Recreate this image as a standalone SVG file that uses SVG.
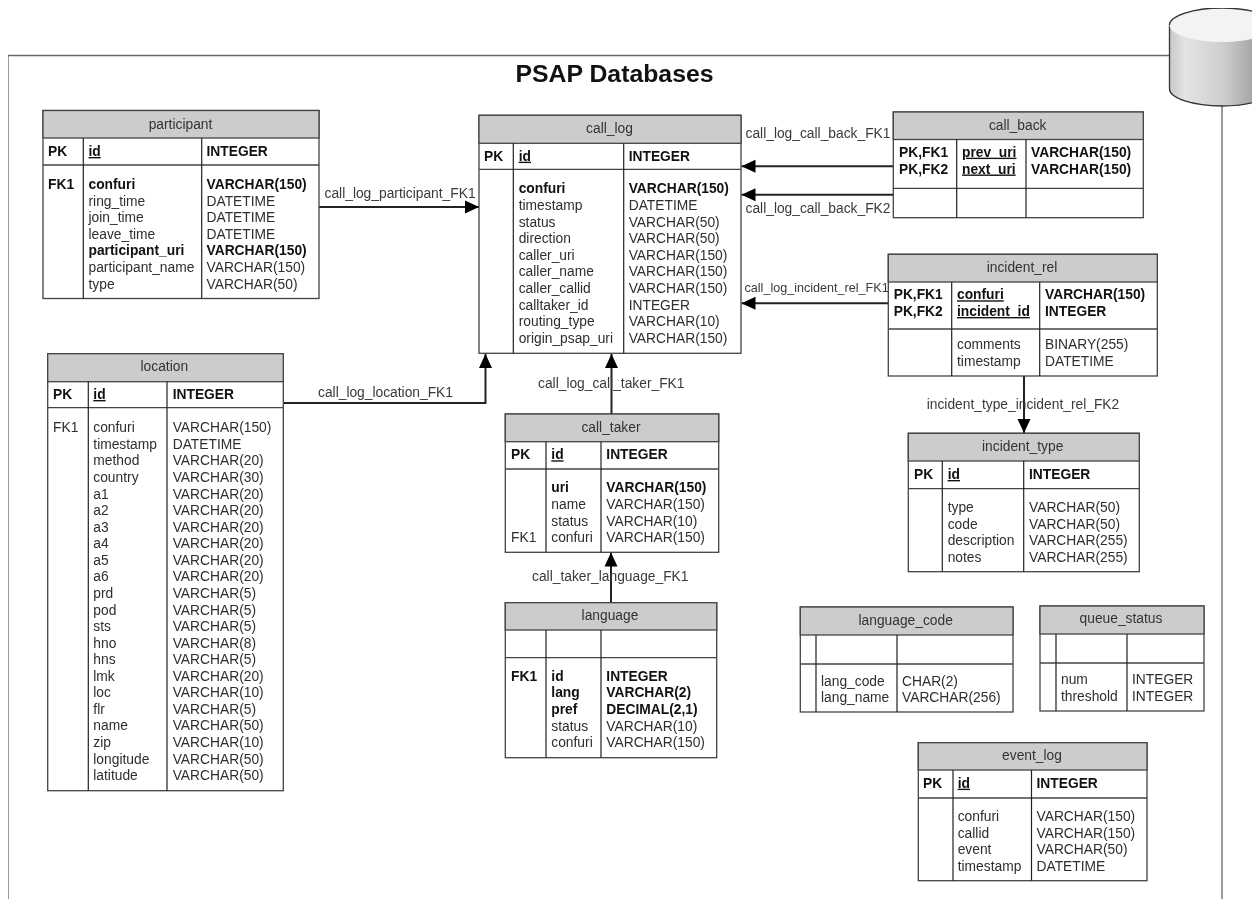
<svg xmlns="http://www.w3.org/2000/svg" width="1252" height="899" viewBox="0 0 1252 899">
<style>
text{font-family:"Liberation Sans",Arial,sans-serif;font-size:13.8px;fill:#2e2e2e}
.b{font-weight:bold;fill:#111}
.u{font-weight:bold;fill:#111;text-decoration:underline}
.h{text-anchor:middle;fill:#333}
.l{fill:#3a3a3a}
.title{font-size:24.8px;font-weight:bold;fill:#111}
.box{fill:#fff;stroke:#444;stroke-width:1.3}
.head{fill:#ccc;stroke:#444;stroke-width:1.3}
.sep{stroke:#444;stroke-width:1.3;fill:none}
.col{stroke:#222;stroke-width:1.2;fill:none}
.frame{stroke:#666;stroke-width:1.3;fill:none}
.conn{stroke:#222;stroke-width:2;fill:none;marker-end:url(#arrow)}
</style>
<defs>
<marker id="arrow" markerUnits="userSpaceOnUse" markerWidth="14" markerHeight="14" refX="14" refY="7" orient="auto"><path d="M0 0.5L14 7L0 13.5Z" fill="#000"/></marker>
<linearGradient id="cyl" x1="0" x2="1" y1="0" y2="0"><stop offset="0" stop-color="#c8c8c8"/><stop offset="0.15" stop-color="#e4e4e4"/><stop offset="0.5" stop-color="#cfcfcf"/><stop offset="0.78" stop-color="#a8a8a8"/><stop offset="1" stop-color="#999"/></linearGradient>
<filter id="soft" x="0" y="0" width="100%" height="100%" color-interpolation-filters="sRGB"><feGaussianBlur stdDeviation="0.4"/></filter>
</defs>
<rect width="1252" height="899" fill="#fff"/>
<g filter="url(#soft)">
<g id="frame">
<path class="frame" d="M8 899V55.5H1169M1222 106V899"/>
<path d="M1169.5 25V89C1169.5 98 1193 106 1222 106S1274.5 98 1274.5 89V25Z" fill="url(#cyl)" stroke="#333" stroke-width="1.3"/>
<ellipse cx="1222" cy="25" rx="52.5" ry="17" fill="#f3f3f3"/>
<path d="M1169.5 25C1169.5 16 1193 8 1222 8S1274.5 16 1274.5 25" fill="none" stroke="#333" stroke-width="1.3"/>
<text class="title" x="515.5" y="82">PSAP Databases</text>
</g>
<g id="connectors">
<path class="conn" d="M319 207H479"/>
<path class="conn" d="M283.5 403H485.5V354"/>
<path class="conn" d="M611.5 414V354"/>
<path class="conn" d="M611 602.7V552.5"/>
<path class="conn" d="M893 166.3H741.5"/>
<path class="conn" d="M893 194.7H741.5"/>
<path class="conn" d="M888 303.3H741.5"/>
<path class="conn" d="M1024 376V433"/>
<text class="l" x="324.5" y="197.5">call_log_participant_FK1</text>
<text class="l" x="318" y="397">call_log_location_FK1</text>
<text class="l" x="538" y="387.7">call_log_call_taker_FK1</text>
<text class="l" x="532" y="581.3">call_taker_language_FK1</text>
<text class="l" x="745.5" y="138.3">call_log_call_back_FK1</text>
<text class="l" x="745.5" y="212.7">call_log_call_back_FK2</text>
<text class="l" x="744.5" y="292" style="font-size:12.6px">call_log_incident_rel_FK1</text>
<text class="l" x="926.7" y="408.7">incident_type_incident_rel_FK2</text>
</g>
<g id="participant">
<rect class="box" x="43" y="110.5" width="276" height="188"/><rect class="head" x="43" y="110.5" width="276" height="27.5"/>
<path class="sep" d="M43 165H319"/><path class="col" d="M83.3 138V298.5M201.7 138V298.5"/>
<text class="h" x="180.5" y="128.5">participant</text>
<text class="b" x="48" y="156">PK</text><text class="u" x="88.5" y="156">id</text><text class="b" x="206.5" y="156">INTEGER</text>
<text class="b" x="48" y="189">FK1</text>
<text class="b" x="88.5" y="189">confuri</text><text class="b" x="206.5" y="189">VARCHAR(150)</text>
<text x="88.5" y="205.6">ring_time</text><text x="206.5" y="205.6">DATETIME</text>
<text x="88.5" y="222.2">join_time</text><text x="206.5" y="222.2">DATETIME</text>
<text x="88.5" y="238.8">leave_time</text><text x="206.5" y="238.8">DATETIME</text>
<text class="b" x="88.5" y="255.4">participant_uri</text><text class="b" x="206.5" y="255.4">VARCHAR(150)</text>
<text x="88.5" y="272">participant_name</text><text x="206.5" y="272">VARCHAR(150)</text>
<text x="88.5" y="288.6">type</text><text x="206.5" y="288.6">VARCHAR(50)</text>
</g>
<g id="call_log">
<rect class="box" x="479" y="115.3" width="262" height="238"/><rect class="head" x="479" y="115.3" width="262" height="28"/>
<path class="sep" d="M479 169.3H741"/><path class="col" d="M513.3 143.3V353.3M623.7 143.3V353.3"/>
<text class="h" x="609.5" y="133">call_log</text>
<text class="b" x="484" y="160.7">PK</text><text class="u" x="518.7" y="160.7">id</text><text class="b" x="628.7" y="160.7">INTEGER</text>
<text class="b" x="518.7" y="193.3">confuri</text><text class="b" x="628.7" y="193.3">VARCHAR(150)</text>
<text x="518.7" y="209.9">timestamp</text><text x="628.7" y="209.9">DATETIME</text>
<text x="518.7" y="226.5">status</text><text x="628.7" y="226.5">VARCHAR(50)</text>
<text x="518.7" y="243.1">direction</text><text x="628.7" y="243.1">VARCHAR(50)</text>
<text x="518.7" y="259.7">caller_uri</text><text x="628.7" y="259.7">VARCHAR(150)</text>
<text x="518.7" y="276.3">caller_name</text><text x="628.7" y="276.3">VARCHAR(150)</text>
<text x="518.7" y="292.9">caller_callid</text><text x="628.7" y="292.9">VARCHAR(150)</text>
<text x="518.7" y="309.5">calltaker_id</text><text x="628.7" y="309.5">INTEGER</text>
<text x="518.7" y="326.1">routing_type</text><text x="628.7" y="326.1">VARCHAR(10)</text>
<text x="518.7" y="342.7">origin_psap_uri</text><text x="628.7" y="342.7">VARCHAR(150)</text>
</g>
<g id="call_back">
<rect class="box" x="893.3" y="112" width="250" height="105.7"/><rect class="head" x="893.3" y="112" width="250" height="27.5"/>
<path class="sep" d="M893.3 188.3H1143.3"/><path class="col" d="M956.7 139.5V217.7M1026 139.5V217.7"/>
<text class="h" x="1017.7" y="129.7">call_back</text>
<text class="b" x="899" y="156.7">PK,FK1</text><text class="u" x="962" y="156.7">prev_uri</text><text class="b" x="1031" y="156.7">VARCHAR(150)</text>
<text class="b" x="899" y="173.5">PK,FK2</text><text class="u" x="962" y="173.5">next_uri</text><text class="b" x="1031" y="173.5">VARCHAR(150)</text>
</g>
<g id="incident_rel">
<rect class="box" x="888.3" y="254.3" width="269" height="121.7"/><rect class="head" x="888.3" y="254.3" width="269" height="27.7"/>
<path class="sep" d="M888.3 329H1157.3"/><path class="col" d="M951.7 282V376M1039.7 282V376"/>
<text class="h" x="1022" y="271.7">incident_rel</text>
<text class="b" x="893.7" y="299.3">PK,FK1</text><text class="u" x="957" y="299.3">confuri</text><text class="b" x="1045" y="299.3">VARCHAR(150)</text>
<text class="b" x="893.7" y="316">PK,FK2</text><text class="u" x="957" y="316">incident_id</text><text class="b" x="1045" y="316">INTEGER</text>
<text x="957" y="349.3">comments</text><text x="1045" y="349.3">BINARY(255)</text>
<text x="957" y="366">timestamp</text><text x="1045" y="366">DATETIME</text>
</g>
<g id="incident_type">
<rect class="box" x="908.3" y="433.3" width="231" height="138.4"/><rect class="head" x="908.3" y="433.3" width="231" height="27.7"/>
<path class="sep" d="M908.3 488.7H1139.3"/><path class="col" d="M942.3 461V571.7M1023.7 461V571.7"/>
<text class="h" x="1022.7" y="450.7">incident_type</text>
<text class="b" x="914" y="479">PK</text><text class="u" x="947.7" y="479">id</text><text class="b" x="1029" y="479">INTEGER</text>
<text x="947.7" y="512">type</text><text x="1029" y="512">VARCHAR(50)</text>
<text x="947.7" y="528.6">code</text><text x="1029" y="528.6">VARCHAR(50)</text>
<text x="947.7" y="545.2">description</text><text x="1029" y="545.2">VARCHAR(255)</text>
<text x="947.7" y="561.8">notes</text><text x="1029" y="561.8">VARCHAR(255)</text>
</g>
<g id="location">
<rect class="box" x="47.7" y="353.7" width="235.6" height="437"/><rect class="head" x="47.7" y="353.7" width="235.6" height="28"/>
<path class="sep" d="M47.7 407.7H283.3"/><path class="col" d="M88.3 381.7V790.7M167 381.7V790.7"/>
<text class="h" x="164.3" y="371.3">location</text>
<text class="b" x="53" y="399">PK</text><text class="u" x="93.3" y="399">id</text><text class="b" x="172.7" y="399">INTEGER</text>
<text x="53" y="432.3">FK1</text>
<text x="93.3" y="432.3">confuri</text><text x="172.7" y="432.3">VARCHAR(150)</text>
<text x="93.3" y="448.9">timestamp</text><text x="172.7" y="448.9">DATETIME</text>
<text x="93.3" y="465.4">method</text><text x="172.7" y="465.4">VARCHAR(20)</text>
<text x="93.3" y="482">country</text><text x="172.7" y="482">VARCHAR(30)</text>
<text x="93.3" y="498.5">a1</text><text x="172.7" y="498.5">VARCHAR(20)</text>
<text x="93.3" y="515.1">a2</text><text x="172.7" y="515.1">VARCHAR(20)</text>
<text x="93.3" y="531.7">a3</text><text x="172.7" y="531.7">VARCHAR(20)</text>
<text x="93.3" y="548.2">a4</text><text x="172.7" y="548.2">VARCHAR(20)</text>
<text x="93.3" y="564.8">a5</text><text x="172.7" y="564.8">VARCHAR(20)</text>
<text x="93.3" y="581.3">a6</text><text x="172.7" y="581.3">VARCHAR(20)</text>
<text x="93.3" y="597.9">prd</text><text x="172.7" y="597.9">VARCHAR(5)</text>
<text x="93.3" y="614.5">pod</text><text x="172.7" y="614.5">VARCHAR(5)</text>
<text x="93.3" y="631">sts</text><text x="172.7" y="631">VARCHAR(5)</text>
<text x="93.3" y="647.6">hno</text><text x="172.7" y="647.6">VARCHAR(8)</text>
<text x="93.3" y="664.1">hns</text><text x="172.7" y="664.1">VARCHAR(5)</text>
<text x="93.3" y="680.7">lmk</text><text x="172.7" y="680.7">VARCHAR(20)</text>
<text x="93.3" y="697.3">loc</text><text x="172.7" y="697.3">VARCHAR(10)</text>
<text x="93.3" y="713.8">flr</text><text x="172.7" y="713.8">VARCHAR(5)</text>
<text x="93.3" y="730.4">name</text><text x="172.7" y="730.4">VARCHAR(50)</text>
<text x="93.3" y="746.9">zip</text><text x="172.7" y="746.9">VARCHAR(10)</text>
<text x="93.3" y="763.5">longitude</text><text x="172.7" y="763.5">VARCHAR(50)</text>
<text x="93.3" y="780">latitude</text><text x="172.7" y="780">VARCHAR(50)</text>
</g>
<g id="call_taker">
<rect class="box" x="505.3" y="414" width="213.4" height="138.3"/><rect class="head" x="505.3" y="414" width="213.4" height="27.7"/>
<path class="sep" d="M505.3 469H718.7"/><path class="col" d="M546 441.7V552.3M601 441.7V552.3"/>
<text class="h" x="611" y="431.7">call_taker</text>
<text class="b" x="511" y="459.3">PK</text><text class="u" x="551.3" y="459.3">id</text><text class="b" x="606.3" y="459.3">INTEGER</text>
<text class="b" x="551.3" y="492.3">uri</text><text class="b" x="606.3" y="492.3">VARCHAR(150)</text>
<text x="551.3" y="509">name</text><text x="606.3" y="509">VARCHAR(150)</text>
<text x="551.3" y="525.5">status</text><text x="606.3" y="525.5">VARCHAR(10)</text>
<text x="511" y="542">FK1</text><text x="551.3" y="542">confuri</text><text x="606.3" y="542">VARCHAR(150)</text>
</g>
<g id="language">
<rect class="box" x="505.3" y="602.7" width="211.4" height="155"/><rect class="head" x="505.3" y="602.7" width="211.4" height="27.3"/>
<path class="sep" d="M505.3 657.7H716.7"/><path class="col" d="M546 630V757.7M601 630V757.7"/>
<text class="h" x="610" y="620">language</text>
<text class="b" x="511" y="680.7">FK1</text><text class="b" x="551.3" y="680.7">id</text><text class="b" x="606.3" y="680.7">INTEGER</text>
<text class="b" x="551.3" y="697.3">lang</text><text class="b" x="606.3" y="697.3">VARCHAR(2)</text>
<text class="b" x="551.3" y="714">pref</text><text class="b" x="606.3" y="714">DECIMAL(2,1)</text>
<text x="551.3" y="730.5">status</text><text x="606.3" y="730.5">VARCHAR(10)</text>
<text x="551.3" y="747">confuri</text><text x="606.3" y="747">VARCHAR(150)</text>
</g>
<g id="language_code">
<rect class="box" x="800.3" y="607" width="212.7" height="105"/><rect class="head" x="800.3" y="607" width="212.7" height="28"/>
<path class="sep" d="M800.3 664H1013"/><path class="col" d="M816 635V712M897 635V712"/>
<text class="h" x="905.7" y="624.7">language_code</text>
<text x="821" y="685.7">lang_code</text><text x="902" y="685.7">CHAR(2)</text>
<text x="821" y="702.3">lang_name</text><text x="902" y="702.3">VARCHAR(256)</text>
</g>
<g id="queue_status">
<rect class="box" x="1040" y="606" width="164" height="105"/><rect class="head" x="1040" y="606" width="164" height="28"/>
<path class="sep" d="M1040 663H1204"/><path class="col" d="M1056 634V711M1127 634V711"/>
<text class="h" x="1121" y="623.3">queue_status</text>
<text x="1061" y="684.3">num</text><text x="1132" y="684.3">INTEGER</text>
<text x="1061" y="701">threshold</text><text x="1132" y="701">INTEGER</text>
</g>
<g id="event_log">
<rect class="box" x="918.3" y="742.7" width="228.7" height="138"/><rect class="head" x="918.3" y="742.7" width="228.7" height="27.3"/>
<path class="sep" d="M918.3 798H1147"/><path class="col" d="M953 770V880.7M1031.5 770V880.7"/>
<text class="h" x="1032" y="760">event_log</text>
<text class="b" x="923" y="787.7">PK</text><text class="u" x="957.7" y="787.7">id</text><text class="b" x="1036.5" y="787.7">INTEGER</text>
<text x="957.7" y="821">confuri</text><text x="1036.5" y="821">VARCHAR(150)</text>
<text x="957.7" y="837.6">callid</text><text x="1036.5" y="837.6">VARCHAR(150)</text>
<text x="957.7" y="854.2">event</text><text x="1036.5" y="854.2">VARCHAR(50)</text>
<text x="957.7" y="870.7">timestamp</text><text x="1036.5" y="870.7">DATETIME</text>
</g>
</g>
</svg>
